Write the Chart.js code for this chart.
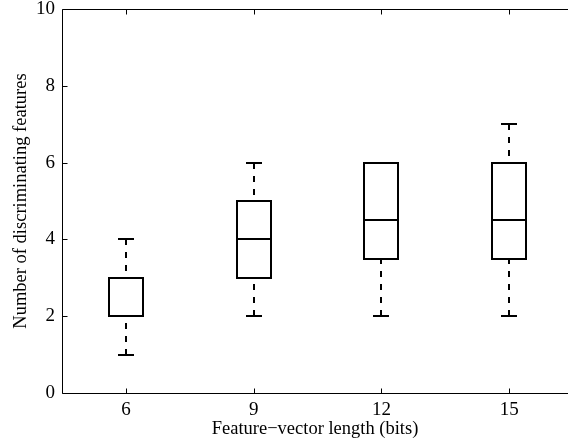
<!DOCTYPE html>
<html>
<head>
<meta charset="utf-8">
<script src="https://cdn.jsdelivr.net/npm/chart.js@4"></script>
<style>
html,body{margin:0;padding:0;background:#fff;overflow:hidden;}
canvas{display:block;}
</style>
</head>
<body>
<canvas id="c" width="568" height="447"></canvas>
<script>
const categories = ['6', '9', '12', '15'];
const positions = [1, 2, 3, 4];
const whiskerLow = [1, 2, 2, 2];
const q1 = [2, 3, 3.5, 3.5];
const median = [2, 4, 4.5, 4.5];
const q3 = [3, 5, 6, 6];
const whiskerHigh = [4, 6, 6, 7];
const yTicks = [0, 2, 4, 6, 8, 10];

const FONT = "'Liberation Serif', 'Times New Roman', serif";

const boxPlugin = {
  id: 'boxExtras',
  afterDatasetsDraw(chart) {
    const ctx = chart.ctx;
    const x = chart.scales.x, y = chart.scales.y;
    ctx.save();
    ctx.strokeStyle = '#000';
    ctx.lineWidth = 2;
    ctx.lineCap = 'butt';
    const meta = chart.getDatasetMeta(0);
    positions.forEach((p, i) => {
      const bar = meta.data[i];
      const cx = Math.round(bar.x);
      const half = Math.round(bar.width / 2);
      const capHalf = 8;
      const yTop = Math.round(bar.y), yBot = Math.round(bar.base);
      // whiskers (dashed)
      ctx.setLineDash([6, 7]);
      ctx.beginPath();
      ctx.moveTo(cx, Math.round(y.getPixelForValue(whiskerHigh[i])));
      ctx.lineTo(cx, yTop);
      ctx.moveTo(cx, Math.round(y.getPixelForValue(whiskerLow[i])));
      ctx.lineTo(cx, yBot);
      ctx.stroke();
      ctx.setLineDash([]);
      // caps
      ctx.beginPath();
      [whiskerHigh[i], whiskerLow[i]].forEach(v => {
        const py = Math.round(y.getPixelForValue(v));
        ctx.moveTo(cx - capHalf, py);
        ctx.lineTo(cx + capHalf, py);
      });
      ctx.stroke();
      // box outline
      ctx.strokeRect(cx - half, yTop, 2 * half, yBot - yTop);
      // median
      const my = Math.round(y.getPixelForValue(median[i]));
      ctx.beginPath();
      ctx.moveTo(cx - half, my);
      ctx.lineTo(cx + half, my);
      ctx.stroke();
    });
    ctx.restore();
  },
  afterDraw(chart) {
    const ctx = chart.ctx;
    const x = chart.scales.x, y = chart.scales.y;
    const a = chart.chartArea;
    const L = Math.round(a.left) + 0.5, T = Math.round(a.top) + 0.5, B = Math.round(a.bottom) + 0.5;
    ctx.save();
    ctx.strokeStyle = '#000';
    ctx.lineWidth = 1;
    ctx.beginPath();
    ctx.moveTo(a.right + 2, T); ctx.lineTo(L, T); ctx.lineTo(L, B); ctx.lineTo(a.right + 2, B);
    ctx.stroke();
    const tl = 5;
    ctx.beginPath();
    yTicks.forEach(v => {
      const py = Math.round(y.getPixelForValue(v)) + 0.5;
      ctx.moveTo(L, py); ctx.lineTo(L + tl, py);
    });
    positions.forEach(p => {
      const px = Math.round(x.getPixelForValue(p)) + 0.5;
      ctx.moveTo(px, B); ctx.lineTo(px, B - tl);
      ctx.moveTo(px, T); ctx.lineTo(px, T + tl);
    });
    ctx.stroke();
    ctx.restore();
  }
};

new Chart(document.getElementById('c'), {
  type: 'bar',
  data: {
    datasets: [{
      data: positions.map((p, i) => ({ x: p, y: [q1[i], q3[i]] })),
      backgroundColor: 'rgba(255,255,255,0)',
      borderColor: 'rgba(0,0,0,0)',
      borderWidth: 0,
      borderSkipped: false,
      barThickness: 33
    }]
  },
  options: {
    responsive: false,
    animation: false,
    layout: { padding: { left: 0, right: 0, top: 9, bottom: 0 } },
    plugins: { legend: { display: false }, tooltip: { enabled: false } },
    scales: {
      x: {
        type: 'linear',
        min: 0.5, max: 4.46,
        offset: false,
        afterBuildTicks: s => { s.ticks = positions.map(v => ({ value: v })); },
        grid: { display: false, drawTicks: false },
        border: { display: false },
        ticks: { color: '#000', font: { family: FONT, size: 19 }, padding: 6, maxRotation: 0,
          callback: (v) => categories[positions.indexOf(v)] },
        title: { display: true, text: 'Feature\u2212vector length (bits)', color: '#000', font: { family: FONT, size: 18.5 }, padding: { top: 0, bottom: 7 } },
        afterFit: s => { s.height = 54; s.paddingLeft = 0; s.paddingRight = 0; }
      },
      y: {
        min: 0, max: 10,
        afterBuildTicks: s => { s.ticks = yTicks.map(v => ({ value: v })); },
        grid: { display: false, drawTicks: false },
        border: { display: false },
        ticks: { color: '#000', font: { family: FONT, size: 19 }, padding: 7 },
        title: { display: true, text: 'Number of discriminating features', color: '#000', font: { family: FONT, size: 18.5 }, padding: { top: 10, bottom: 0 } },
        afterFit: s => { s.width = 62; s.paddingTop = 0; s.paddingBottom = 0; }
      }
    }
  },
  plugins: [boxPlugin]
});
</script>
</body>
</html>
